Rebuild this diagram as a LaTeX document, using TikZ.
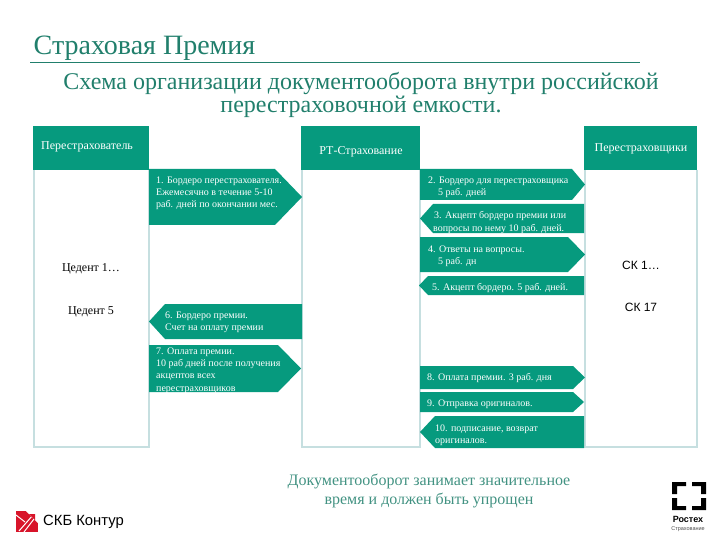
\documentclass[tikz,border=0pt]{standalone}
\usepackage{fontspec}
\setmainfont{Liberation Serif}
\setsansfont{Liberation Sans}
\usepackage{xcolor}
\definecolor{bargreen}{HTML}{069A7E}
\definecolor{colline}{HTML}{C6DFE0}
\definecolor{titleteal}{HTML}{217F6C}
\definecolor{logored}{HTML}{D8142A}

\begin{document}
\begin{tikzpicture}
    [x=1pt,y=-1pt,
    column/.style={draw=colline,line width=2pt},
    header/.style={fill=bargreen},
    bar/.style={fill=bargreen},
    headtext/.style={text=white,font=\fontsize{12}{14}\selectfont,inner sep=0pt},
    bartext/.style={text=white,font=\fontsize{10}{12.2}\selectfont,align=left,anchor=west,inner sep=0pt},
    parttext/.style={font=\fontsize{12}{14}\selectfont,inner sep=0pt}]

\useasboundingbox (0,0) rectangle (720,540);

%title and subtitle
\node[anchor=west,inner sep=0pt,text=titleteal,font=\fontsize{28}{30}\selectfont] (title) at (33.5,48) {Страховая Премия};
\draw[titleteal,line width=0.7pt] (30,62.5) -- (640,62.5);
\node[align=center,inner sep=0pt,text=titleteal,font=\fontsize{24}{23}\selectfont] (subtitle) at (361,94.5) {Схема организации документооборота внутри российской\\перестраховочной емкости.};

%columns
\draw[column] (34,170) -- (34,447) -- (149,447) -- (149,170);
\draw[column] (302,170) -- (302,447) -- (420,447) -- (420,170);
\draw[column] (584.5,170) -- (584.5,447) -- (697,447) -- (697,170);

%column headers
\fill[header] (33,126) rectangle (149,170);
\fill[header] (301,126) rectangle (420,170);
\fill[header] (584,126) rectangle (697,170);
\node[headtext,anchor=west] (cedent) at (41,147) {Перестрахователь};
\node[headtext] (rt) at (361,152) {РТ-Страхование};
\node[headtext] (reins) at (641,149) {Перестраховщики};

%arrows to the right
\fill[bar] (149,169) -- (275,169) -- (302,197) -- (275,225) -- (149,225) -- cycle;
\fill[bar] (420,169) -- (572,169) -- (585,184.5) -- (572,200) -- (420,200) -- cycle;
\fill[bar] (420,237) -- (568,237) -- (585,254.5) -- (568,272) -- (420,272) -- cycle;
\fill[bar] (149,345) -- (278,345) -- (301,368.5) -- (278,392) -- (149,392) -- cycle;
\fill[bar] (420,366) -- (573,366) -- (585,377.5) -- (573,389) -- (420,389) -- cycle;
\fill[bar] (420,392) -- (573,392) -- (584,402) -- (573,412) -- (420,412) -- cycle;

%arrows to the left
\fill[bar] (420,218.5) -- (433,204) -- (584,204) -- (584,233) -- (433,233) -- cycle;
\fill[bar] (419,285.5) -- (428,276) -- (584,276) -- (584,295) -- (428,295) -- cycle;
\fill[bar] (149,321.5) -- (165,304) -- (302,304) -- (302,339) -- (165,339) -- cycle;
\fill[bar] (420,432) -- (435,416) -- (584,416) -- (584,448) -- (435,448) -- cycle;

%arrow labels
\node[bartext] (stepa) at (156,193) {1. Бордеро перестрахователя.\\Ежемесячно в течение 5-10\\раб. дней по окончании мес.};
\node[bartext] (stepb) at (428,187) {2. Бордеро для перестраховщика\\\hspace*{10pt}5 раб. дней};
\node[bartext] (stepc) at (433,222.5) {\hspace*{1pt}3. Акцепт бордеро премии или\\вопросы по нему 10 раб. дней.};
\node[bartext] (stepd) at (428,256) {4. Ответы на вопросы.\\\hspace*{10pt}5 раб. дн};
\node[bartext] (stepe) at (432,288) {5. Акцепт бордеро. 5 раб. дней.};
\node[bartext] (stepf) at (165,322.5) {6. Бордеро премии.\\Счет на оплату премии};
\node[bartext] (stepg) at (156,370.5) {7. Оплата премии.\\10 раб дней после получения\\акцептов всех\\перестраховщиков};
\node[bartext] (steph) at (427,378) {8. Оплата премии. 3 раб. дня};
\node[bartext] (stepi) at (427,404) {9. Отправка оригиналов.};
\node[bartext] (stepj) at (435,435) {10. подписание, возврат\\оригиналов.};

%parties
\node[parttext] (cedone) at (91,269) {Цедент 1…};
\node[parttext] (cedfive) at (91,312) {Цедент 5};
\node[parttext,font=\sffamily\fontsize{12}{14}\selectfont] (skone) at (641,265) {СК 1…};
\node[parttext,font=\sffamily\fontsize{12}{14}\selectfont] (skseventeen) at (641,307) {СК 17};

%bottom note
\node[align=center,inner sep=0pt,text=titleteal!85,font=\fontsize{16}{19.5}\selectfont] (note) at (429,491) {Документооборот занимает значительное\\время и должен быть упрощен};

%logo left
\fill[logored] (16,511) rectangle (38,532);
\draw[white,line width=1pt] (19,531) -- (33,515);
\draw[white,line width=1pt] (24,532) -- (34,519);
\draw[white,line width=1pt] (16,515) -- (25,522);
\fill[white] (26,511) -- (38,511) -- (38,523) -- cycle;
\fill[logored] (29,514) -- (35,514) -- (35,520) -- cycle;
\node[anchor=west,inner sep=0pt,font=\sffamily\fontsize{14.8}{16}\selectfont] (kontur) at (43,522) {СКБ Контур};

%logo right
\fill[black] (672,482) -- (686,482) -- (686,486) -- (677,486) -- (677,494) -- (672,494) -- cycle;
\fill[black] (706,482) -- (692,482) -- (692,486) -- (701,486) -- (701,494) -- (706,494) -- cycle;
\fill[black] (672,510) -- (686,510) -- (686,506) -- (677,506) -- (677,498) -- (672,498) -- cycle;
\fill[black] (706,510) -- (692,510) -- (692,506) -- (701,506) -- (701,498) -- (706,498) -- cycle;
\node[inner sep=0pt,font=\sffamily\bfseries\fontsize{9}{10}\selectfont] (rostec) at (688,519) {Ростех};
\node[inner sep=0pt,text=black!70,font=\sffamily\fontsize{5.5}{6}\selectfont] (rostecins) at (688,529) {Страхование};

\end{tikzpicture}
\end{document}
